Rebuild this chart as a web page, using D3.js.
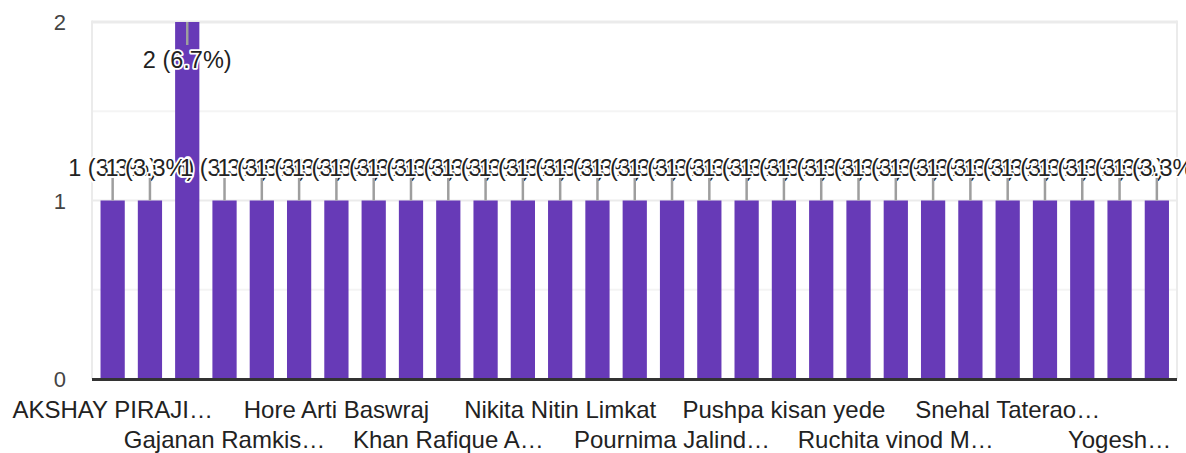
<!DOCTYPE html>
<html>
<head>
<meta charset="utf-8">
<script src="https://cdn.jsdelivr.net/npm/d3@7"></script>
<style>
  html, body { margin: 0; padding: 0; background: #fff; }
  svg { display: block; font-family: "Liberation Sans", Arial, sans-serif; }
</style>
</head>
<body>
<svg id="chart" width="1186" height="453"></svg>
<script>
// Categories (respondent names). Only every third one is labelled in the chart;
// the hidden ones are unreadable, so they carry neutral placeholder names.
const categories = [
  "AKSHAY PIRAJI…", "(hidden 2)", "(hidden 3)",
  "Gajanan Ramkis…", "(hidden 5)", "(hidden 6)",
  "Hore Arti Baswraj", "(hidden 8)", "(hidden 9)",
  "Khan Rafique A…", "(hidden 11)", "(hidden 12)",
  "Nikita Nitin Limkat", "(hidden 14)", "(hidden 15)",
  "Pournima Jalind…", "(hidden 17)", "(hidden 18)",
  "Pushpa kisan yede", "(hidden 20)", "(hidden 21)",
  "Ruchita vinod M…", "(hidden 23)", "(hidden 24)",
  "Snehal Taterao…", "(hidden 26)", "(hidden 27)",
  "Yogesh…", "(hidden 29)"
];
const counts = [1, 1, 2, 1, 1, 1, 1, 1, 1, 1, 1, 1, 1, 1, 1, 1, 1, 1, 1, 1, 1, 1, 1, 1, 1, 1, 1, 1, 1];
const yTicks = [0, 1, 2];
const yMinorTicks = [0.5, 1.5];
const labelEvery = 3;

const svg = d3.select("#chart");
const plotLeft = 92, plotRight = 1177, plotTop = 22, plotBottom = 379;
const total = d3.sum(counts);

const x = d3.scaleBand()
  .domain(d3.range(categories.length))
  .range([94, 1175.5])
  .paddingInner(0.35)
  .paddingOuter(0.175);

const y = d3.scaleLinear().domain([0, 2]).range([plotBottom, plotTop]);

// grid
const grid = svg.append("g");
grid.selectAll("line.minor").data(yMinorTicks).join("line")
  .attr("x1", plotLeft).attr("x2", plotRight)
  .attr("y1", d => y(d)).attr("y2", d => y(d))
  .attr("stroke", "#f4f4f4").attr("stroke-width", 2);
grid.selectAll("line.major").data(yTicks.filter(t => t > 0)).join("line")
  .attr("x1", plotLeft).attr("x2", plotRight)
  .attr("y1", d => y(d)).attr("y2", d => y(d))
  .attr("stroke", "#ebebeb").attr("stroke-width", d => d === 2 ? 3 : 2);
grid.append("line").attr("x1", plotLeft).attr("x2", plotLeft)
  .attr("y1", plotTop - 1.5).attr("y2", plotBottom)
  .attr("stroke", "#ebebeb").attr("stroke-width", 2);
grid.append("line").attr("x1", plotRight).attr("x2", plotRight)
  .attr("y1", plotTop - 1.5).attr("y2", plotBottom)
  .attr("stroke", "#ebebeb").attr("stroke-width", 2);

// y axis labels
const yAxis = d3.axisLeft(y).tickValues(yTicks).tickFormat(d3.format("d")).tickSize(0).tickPadding(0);
const yg = svg.append("g").attr("transform", `translate(66,0)`).call(yAxis);
yg.select(".domain").remove();
yg.selectAll("text")
  .attr("font-size", 22).attr("fill", "#444")
  .attr("font-family", "Liberation Sans, Arial, sans-serif")
  .attr("dy", "0.36em");

// bars
svg.append("g").selectAll("rect").data(counts).join("rect")
  .attr("x", (d, i) => x(i))
  .attr("width", x.bandwidth())
  .attr("y", d => y(d))
  .attr("height", d => y(0) - y(d))
  .attr("fill", "#673ab7");

// baseline
svg.append("line").attr("x1", plotLeft).attr("x2", plotRight)
  .attr("y1", plotBottom + 0.5).attr("y2", plotBottom + 0.5)
  .attr("stroke", "#333").attr("stroke-width", 3);

// data labels with leader lines
const lab = svg.append("g").selectAll("g").data(counts).join("g");
lab.each(function (d, i) {
  const g = d3.select(this);
  const cx = x(i) + x.bandwidth() / 2;
  const top = y(d);
  const inside = top - 40 < 0;
  const lineEnd = inside ? top + 23 : top - 23;
  const base = inside ? top + 45.5 : top - 25;
  g.append("line")
    .attr("x1", cx).attr("x2", cx)
    .attr("y1", top).attr("y2", lineEnd)
    .attr("stroke", "#9e9e9e").attr("stroke-width", 2.5);
  g.append("text")
    .attr("x", cx).attr("y", base)
    .attr("text-anchor", "middle")
    .attr("font-size", 23.5)
    .attr("fill", "#222")
    .attr("stroke", "#fff").attr("stroke-width", 3.5)
    .attr("stroke-linejoin", "round")
    .attr("paint-order", "stroke")
    .text(`${d} (${(d / total * 100).toFixed(1)}%)`);
});

// x axis labels (every third category, alternating rows)
const xAxisG = svg.append("g");
categories.forEach((c, i) => {
  if (i % labelEvery !== 0) return;
  const k = i / labelEvery;
  xAxisG.append("text")
    .attr("x", x(i) + x.bandwidth() / 2)
    .attr("y", k % 2 === 0 ? 418 : 448)
    .attr("text-anchor", "middle")
    .attr("font-size", 24)
    .attr("fill", "#222")
    .text(c);
});
</script>
</body>
</html>
